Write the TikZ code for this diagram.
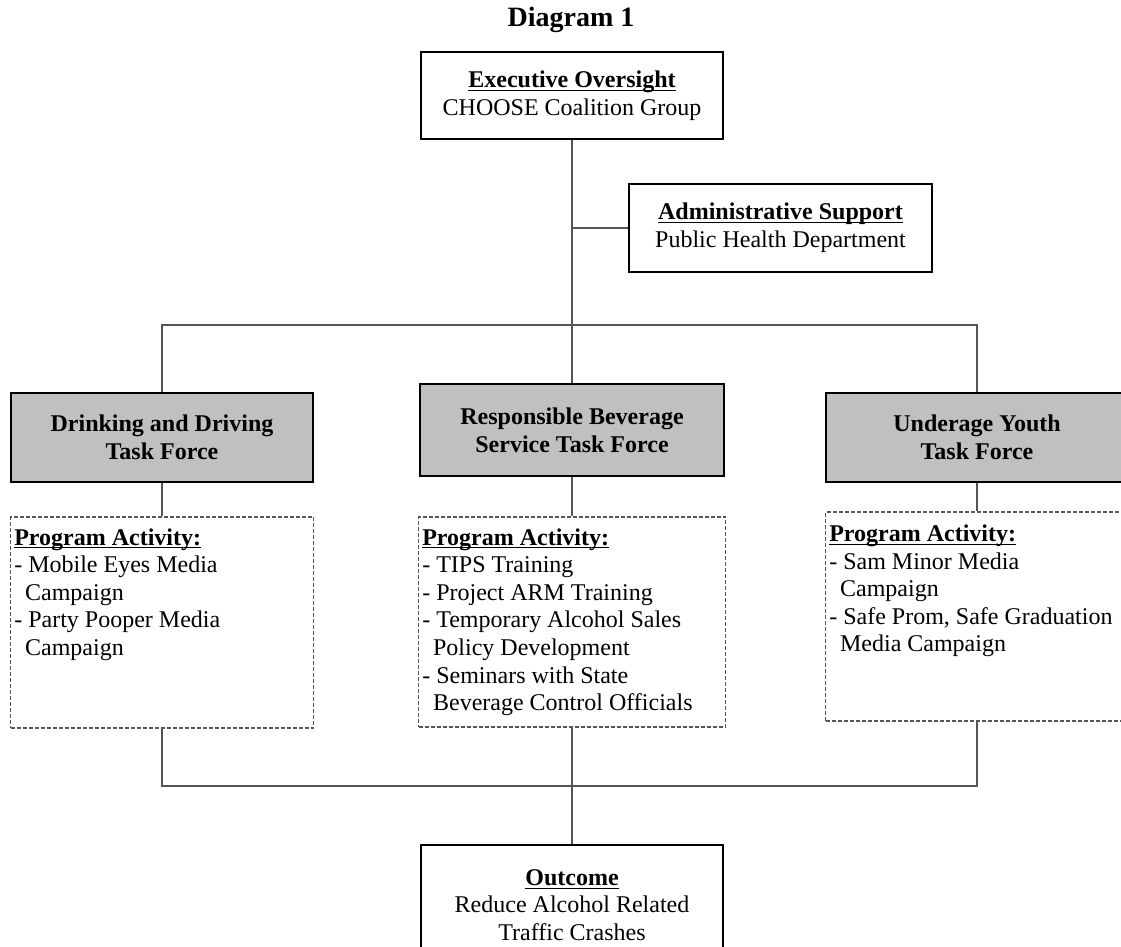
\documentclass[tikz,border=0pt]{standalone}
\usepackage{fontspec}
\setmainfont{Liberation Serif}
\usetikzlibrary{
    positioning,   % Relative positioning
    calc           % Coordinate calculations
}
\definecolor{LineGray}{RGB}{85, 85, 85}
\definecolor{TaskGray}{RGB}{192, 192, 192}
\newcommand{\ulhead}[1]{\underline{\raisebox{0pt}[\height][0pt]{\textbf{#1}}}}
\newcommand{\cont}{\hspace*{0.45em}}

\begin{document}
\begin{tikzpicture}[x=0.5pt, y=-0.5pt,
    box/.style={draw=black, line width=0.8pt, minimum width=151pt, minimum height=44pt,
        align=center, inner sep=2pt, font=\fontsize{12}{13.8}\selectfont},
    taskbox/.style={box, fill=TaskGray, font=\fontsize{12}{13.8}\selectfont\bfseries},
    actbox/.style={draw=LineGray, dash pattern=on 2pt off 1pt, line width=0.6pt,
        minimum width=151.5pt, inner sep=0pt},
    acttext/.style={align=left, inner sep=0pt, font=\fontsize{12}{13.8}\selectfont},
    link/.style={draw=LineGray, line width=0.75pt}]
    \useasboundingbox (0,0) rectangle (1121,947);
    \clip (0,0) rectangle (1121,947);

    % Title
    \node[anchor=base, font=\fontsize{14}{16}\selectfont\bfseries] (title) at (571,27) {Diagram 1};

    % Oversight and support
    \node[box, minimum height=43.5pt] (exec) at (572,95.5)
        {\ulhead{Executive Oversight}\\CHOOSE Coalition Group};
    \node[box, minimum width=151.5pt] (admin) at (780.5,228)
        {\ulhead{Administrative Support}\\Public Health Department};

    % Task forces
    \node[taskbox, minimum height=44.5pt] (drink) at (162,437.5) {Drinking and Driving\\Task Force};
    \node[taskbox, minimum width=152pt, minimum height=46pt] (serve) at (572,430)
        {Responsible Beverage\\Service Task Force};
    \node[taskbox, minimum height=44.5pt] (youth) at (977,437.5) {Underage Youth\\Task Force};

    % Program activities
    \node[actbox, minimum height=105.5pt] (drinkact) at (162,622.5) {};
    \node[actbox, minimum width=153.5pt, minimum height=105pt] (serveact) at (572,622) {};
    \node[actbox, minimum height=104.5pt] (youthact) at (977,616.5) {};

    \node[acttext, below right=5.8pt and 2pt of drinkact.north west] (drinklist)
        {\ulhead{Program Activity:}\\- Mobile Eyes Media\\\cont Campaign\\- Party Pooper Media\\\cont Campaign};
    \node[acttext, below right=5.8pt and 2pt of serveact.north west] (servelist)
        {\ulhead{Program Activity:}\\- TIPS Training\\- Project ARM Training\\- Temporary Alcohol Sales\\\cont Policy Development\\- Seminars with State\\\cont Beverage Control Officials};
    \node[acttext, below right=6.5pt and 2pt of youthact.north west] (youthlist)
        {\ulhead{Program Activity:}\\- Sam Minor Media\\\cont Campaign\\- Safe Prom, Safe Graduation\\\cont Media Campaign};

    % Outcome
    \node[box, minimum height=60pt] (outcome) at (572,905)
        {\ulhead{Outcome}\\Reduce Alcohol Related\\Traffic Crashes};

    % Connectors
    \coordinate (topbus) at (572,325);
    \coordinate (lowbus) at (572,786);
    \draw[link] (exec.south) -- (serve.north);
    \draw[link] (admin.west) -- (admin.west -| exec.south);
    \draw[link] (drink.north) |- (topbus) -| (youth.north);
    \draw[link] (drink.south) -- (drinkact.north);
    \draw[link] (serve.south) -- (serveact.north);
    \draw[link] (youth.south) -- (youthact.north);
    \draw[link] (drinkact.south) |- (lowbus) -| (youthact.south);
    \draw[link] (serveact.south) -- (outcome.north);
\end{tikzpicture}
\end{document}
